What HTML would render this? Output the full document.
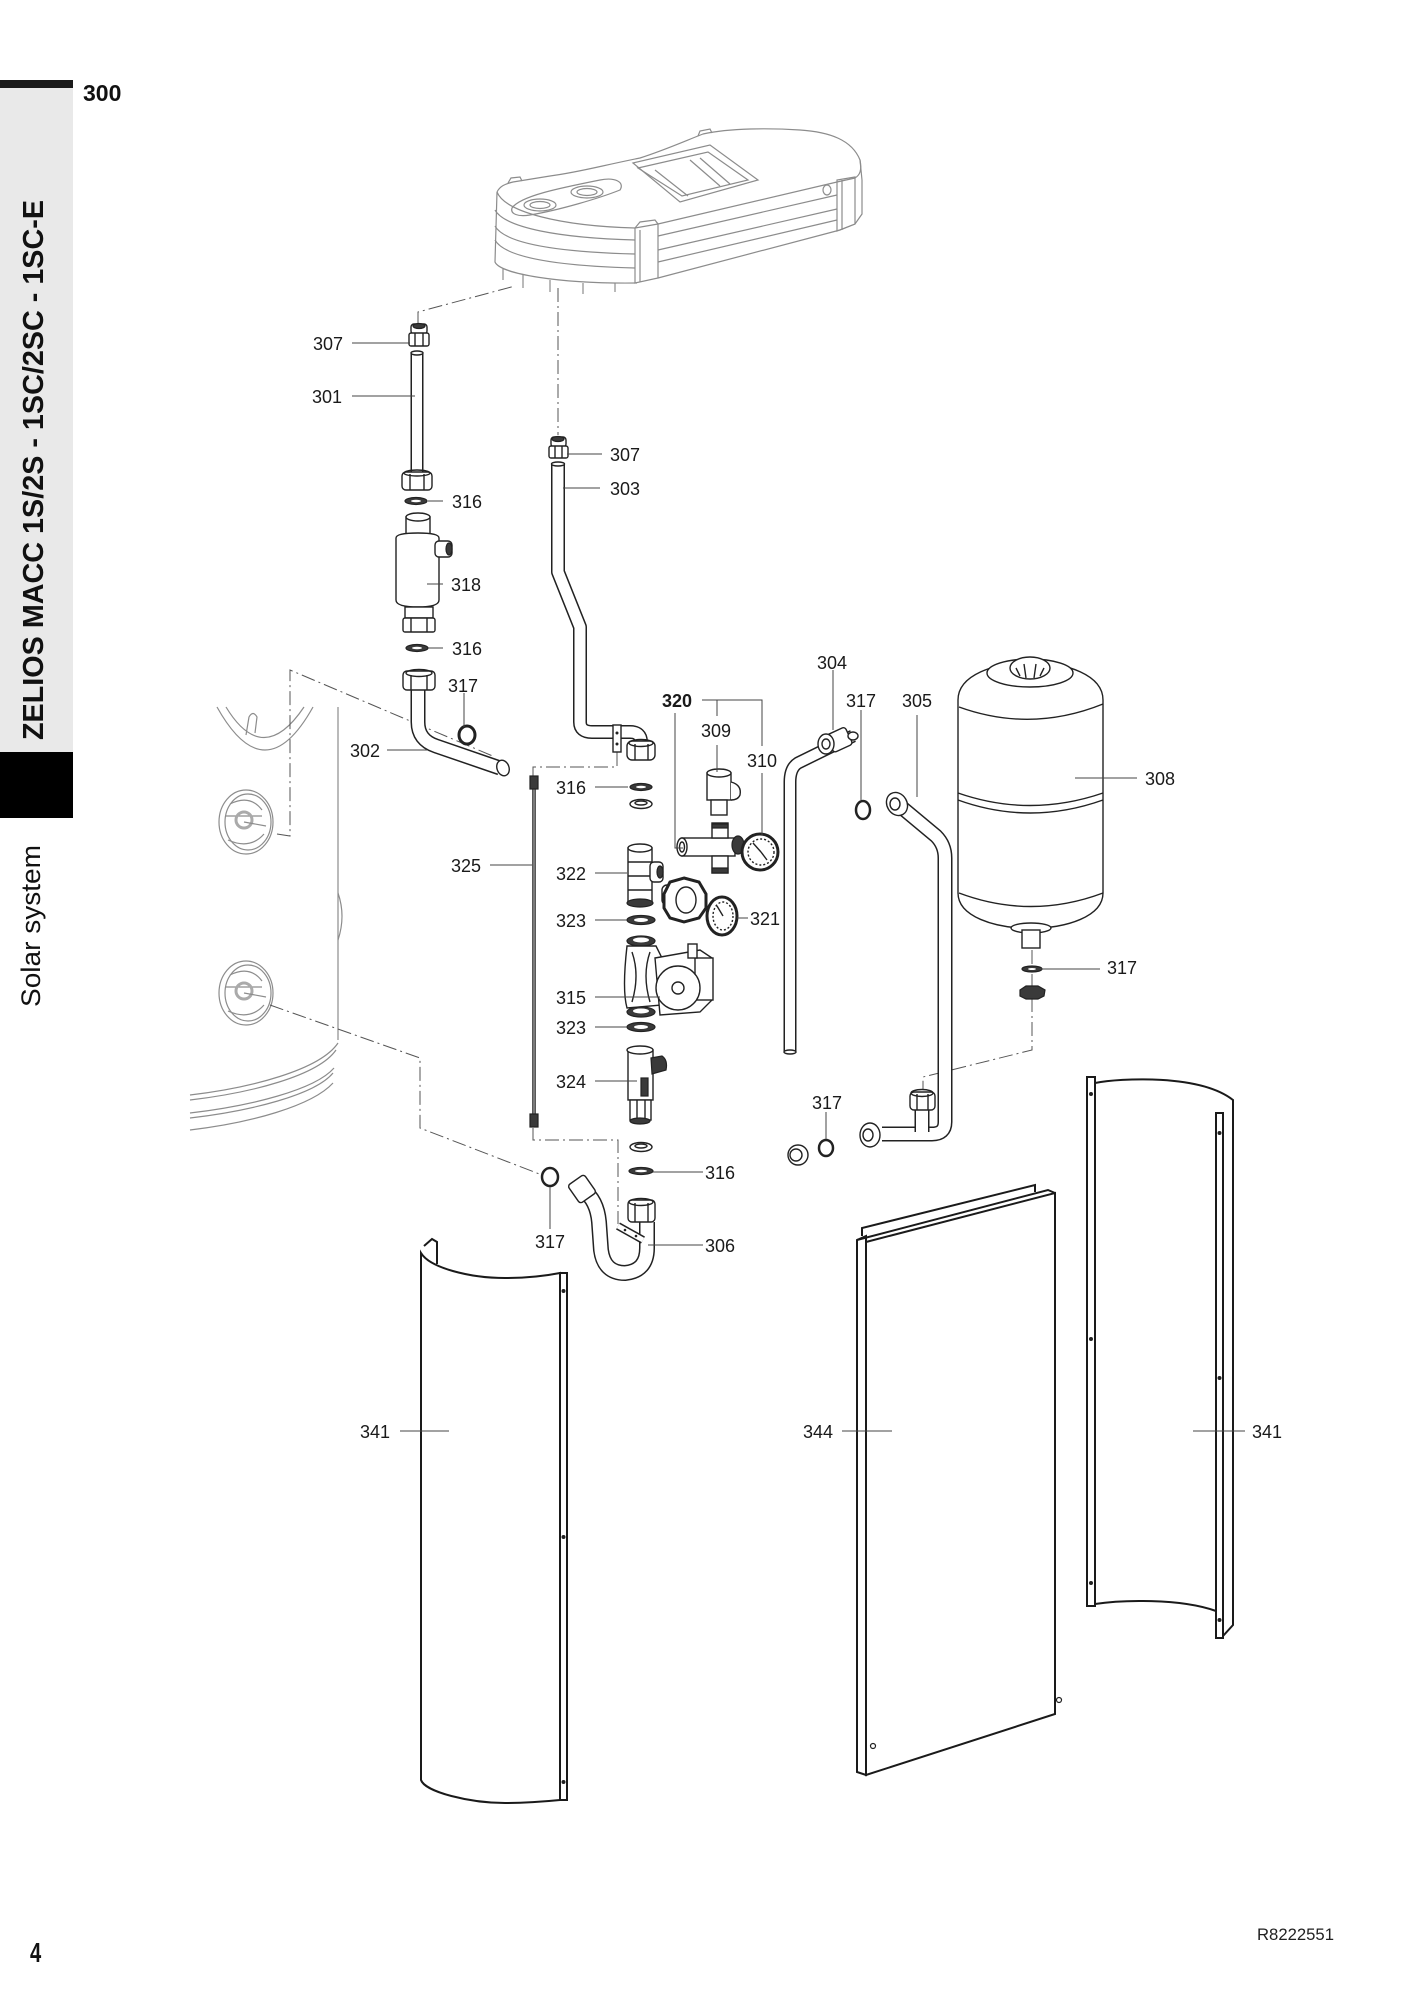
<!DOCTYPE html>
<html><head><meta charset="utf-8">
<style>
html,body{margin:0;padding:0;background:#fff;}
svg{display:block}
text{font-family:"Liberation Sans",Arial,sans-serif;}
.lb{font-size:18px;fill:#1a1a1a;text-anchor:middle}
.ld{stroke:#444;stroke-width:1;fill:none}
.dd{stroke:#555;stroke-width:1;fill:none;stroke-dasharray:14 4 2 4}
.g{stroke:#8c8c8c;stroke-width:1.2;fill:none}
.k{stroke:#222;stroke-width:1.4;fill:#fff}
.kn{stroke:#222;stroke-width:1.4;fill:none}
.kd{stroke:#222;stroke-width:1.2;fill:#3a3a3a}
.tb{stroke:#222;fill:none;stroke-linejoin:round}
.tw{stroke:#fff;fill:none;stroke-linejoin:round}
.pn{stroke:#1a1a1a;stroke-width:2;fill:#fff}
.pl{stroke:#1a1a1a;stroke-width:2;fill:none}
</style></head><body>
<svg width="1410" height="1994" viewBox="0 0 1410 1994" xmlns="http://www.w3.org/2000/svg">
<defs>
 <path id="p301" d="M417,352 L417,472"/>
 <path id="p302" d="M418,690 L418,722 Q418,740 436,746 L500,768"/>
 <path id="p303" d="M558,463 L558,572 L580,627 L580,722 Q580,732 592,732 L630,732 Q641,732 641,742"/>
 <path id="p304" d="M853,736 L798,763 Q790,768 790,782 L790,1052"/>
 <path id="p305" d="M900,806 L936,836 Q945,845 945,858 L945,1122 Q945,1134 932,1134 L882,1134"/>
 <path id="p305b" d="M922,1108 L922,1132"/>
 <path id="p306" d="M583,1190 Q597,1200 599,1222 L601,1250 Q604,1273 625,1273 Q647,1271 647,1248 L647,1222"/>
</defs>

<!-- Sidebar -->
<rect x="0" y="80" width="73" height="8" fill="#1a1a1a"/>
<rect x="0" y="88" width="73" height="664" fill="#e9e9e9"/>
<rect x="0" y="752" width="73" height="66" fill="#000"/>
<text transform="translate(43,470) rotate(-90)" text-anchor="middle" font-size="28.5" font-weight="bold" fill="#111" textLength="540" lengthAdjust="spacingAndGlyphs">ZELIOS MACC 1S/2S - 1SC/2SC - 1SC-E</text>
<text transform="translate(40,926) rotate(-90)" text-anchor="middle" font-size="27" fill="#111" textLength="162" lengthAdjust="spacingAndGlyphs">Solar system</text>
<text x="83" y="101" font-size="23" font-weight="bold" fill="#111">300</text>

<!-- Top cover (gray) -->
<g class="g">
 <path d="M497,192 C500,186 505,184 513,182 L550,176 C580,172 600,166 640,158 C665,150 685,141 703,134 C730,128 770,128 800,130 C830,132 852,140 860,160 L862,180"/>
 <path d="M508,183 L511,178 L520,177 L522,181"/>
 <path d="M698,136 L700,131 L710,129 L712,133"/>
 <path d="M497,192 C505,212 560,226 635,228"/>
 <path d="M658,224 L837,182 L855,178 C860,175 862,170 860,160"/>
 <path d="M495,210 C505,228 560,238 635,240"/>
 <path d="M495,226 C505,244 560,252 635,254"/>
 <path d="M495,240 C505,258 560,266 635,268"/>
 <path d="M658,236 L837,195"/>
 <path d="M658,250 L837,209"/>
 <path d="M658,262 L837,220"/>
 <path d="M497,192 L495,262 C500,274 560,284 637,283"/>
 <path d="M658,278 L840,230 L855,224 L862,214 L862,180"/>
 <path d="M635,228 L635,283 L658,278 L658,224 Z"/>
 <path d="M640,230 L640,282"/>
 <path d="M635,228 L640,222 L655,220 L658,224"/>
 <path d="M837,180 L837,231 L855,224 L855,177 Z"/>
 <path d="M842,180 L842,230"/>
 <path d="M633,163 L710,145 L758,180 L680,202 Z"/>
 <path d="M638,168 L708,152 L748,180 L682,196 Z"/>
 <path d="M655,170 L688,196 M690,160 L720,186 M700,158 L730,184"/>
 <path d="M512,208 C520,196 560,188 600,180 C615,177 625,182 620,190 C600,198 560,210 530,215 C518,217 510,214 512,208 Z"/>
 <ellipse cx="540" cy="205" rx="16" ry="6"/>
 <ellipse cx="540" cy="205" rx="10" ry="3.5"/>
 <ellipse cx="587" cy="192" rx="16" ry="6"/>
 <ellipse cx="587" cy="192" rx="10" ry="3.5"/>
 <ellipse cx="827" cy="190" rx="4" ry="5"/>
 <path d="M503,268 L503,280 M523,274 L523,288 M550,280 L550,292 M583,283 L583,294 M615,283 L615,292"/>
</g>

<!-- Left boiler (gray) -->
<g class="g" stroke="#9a9a9a">
 <path d="M338,707 L338,1040"/>
 <path d="M338,893 Q346,916 338,940"/>
 <path d="M217,707 Q265,793 313,707"/>
 <path d="M226,707 Q263,768 304,707"/>
 <path d="M246,735 L249,717 Q253,710 257,717 L255,733"/>
 <ellipse cx="246" cy="822" rx="27" ry="32"/>
 <ellipse cx="248" cy="822" rx="23" ry="28"/>
 <path d="M230,804 Q250,794 262,810 M228,840 Q250,850 264,834 M226,816 L262,816"/>
 <circle cx="244" cy="820" r="8" stroke-width="3" stroke="#aaa"/>
 <path d="M244,822 L266,826"/>
 <ellipse cx="246" cy="993" rx="27" ry="32"/>
 <ellipse cx="248" cy="993" rx="23" ry="28"/>
 <path d="M230,975 Q250,965 262,981 M228,1011 Q250,1021 264,1005 M226,987 L262,987"/>
 <circle cx="244" cy="991" r="8" stroke-width="3" stroke="#aaa"/>
 <path d="M244,993 L266,997"/>
 <path d="M190,1095 C250,1088 320,1070 338,1043"/>
 <path d="M190,1100 C250,1093 318,1076 336,1050"/>
 <path d="M190,1113 C250,1106 315,1090 334,1068"/>
 <path d="M190,1118 C250,1111 315,1095 333,1073"/>
 <path d="M190,1130 C250,1123 312,1106 333,1083"/>
</g>

<!-- dash-dot axes -->
<g class="dd">
 <path d="M418,325 L418,312 L515,286"/>
 <path d="M558,288 L558,435"/>
 <path d="M277,834 L290,836 L290,670 L495,757"/>
 <path d="M270,1005 L420,1058 L420,1128 L542,1175"/>
 <path d="M617,752 L617,767 L533,767 L533,776"/>
 <path d="M533,1128 L533,1140 L618,1140 L618,1224"/>
 <path d="M1032,950 L1032,1050 L923,1077 L923,1090"/>
</g>

<!-- tubes -->
<g>
 <use href="#p301" class="tb" stroke-width="13"/><use href="#p301" class="tw" stroke-width="10"/>
 <use href="#p302" class="tb" stroke-width="15"/><use href="#p302" class="tw" stroke-width="12"/>
 <use href="#p303" class="tb" stroke-width="14"/><use href="#p303" class="tw" stroke-width="11"/>
 <use href="#p304" class="tb" stroke-width="13"/><use href="#p304" class="tw" stroke-width="10"/>
 <use href="#p305" class="tb" stroke-width="15"/><use href="#p305" class="tw" stroke-width="12"/>
 <use href="#p305b" class="tb" stroke-width="15"/><use href="#p305b" class="tw" stroke-width="12"/>
 <use href="#p306" class="tb" stroke-width="16"/><use href="#p306" class="tw" stroke-width="13"/>
</g>

<!-- 307 left + 301 -->
<g>
 <rect x="411" y="324" width="16" height="10" rx="3" class="k"/>
 <ellipse cx="419" cy="326" rx="6" ry="2.5" class="kd"/>
 <rect x="409" y="333" width="20" height="13" rx="2" class="k"/>
 <path d="M415,333 L415,346 M423,333 L423,346" class="kn"/>
 <ellipse cx="417" cy="353" rx="6" ry="2" class="k"/>
 <rect x="402" y="472" width="30" height="18" rx="4" class="k"/>
 <ellipse cx="417" cy="473" rx="13" ry="3" class="kn"/>
 <path d="M410,474 L410,490 M424,474 L424,490" class="kn"/>
 <ellipse cx="416" cy="501" rx="11" ry="3.5" class="kd"/><ellipse cx="416" cy="501" rx="5" ry="1.3" fill="#fff"/>
 <!-- 318 -->
 <rect x="406" y="517" width="24" height="18" class="k"/>
 <ellipse cx="418" cy="517" rx="12" ry="4" class="k"/>
 <path d="M396,538 Q396,533 418,533 Q439,533 439,538 L439,600 Q439,607 418,607 Q396,607 396,600 Z" class="k"/>
 <rect x="435" y="541" width="17" height="16" rx="4" class="k"/>
 <ellipse cx="449" cy="549" rx="3" ry="6" class="kd"/>
 <rect x="405" y="607" width="28" height="11" class="k"/>
 <rect x="403" y="618" width="32" height="14" rx="2" class="k"/>
 <path d="M411,618 L411,632 M427,618 L427,632" class="kn"/>
 <ellipse cx="417" cy="648" rx="11" ry="3.5" class="kd"/><ellipse cx="417" cy="648" rx="5" ry="1.3" fill="#fff"/>
 <!-- 302 nut -->
 <rect x="403" y="671" width="32" height="19" rx="4" class="k"/>
 <ellipse cx="419" cy="673" rx="13" ry="3.5" class="kn"/>
 <path d="M411,675 L411,690 M427,675 L427,690" class="kn"/>
 <ellipse cx="503" cy="768" rx="6" ry="8" class="k" transform="rotate(-20 503 768)"/>
 <ellipse cx="467" cy="735" rx="8" ry="9" fill="none" stroke="#222" stroke-width="3"/>
</g>

<!-- 307 right + 303 end -->
<g>
 <rect x="551" y="437" width="15" height="10" rx="3" class="k"/>
 <ellipse cx="558" cy="439" rx="6" ry="2.5" class="kd"/>
 <rect x="549" y="446" width="19" height="12" rx="2" class="k"/>
 <path d="M555,446 L555,458 M562,446 L562,458" class="kn"/>
 <ellipse cx="558" cy="464" rx="6.5" ry="2" class="k"/>
 <rect x="627" y="741" width="28" height="19" rx="5" class="k"/>
 <ellipse cx="641" cy="743" rx="12" ry="3.5" class="kn"/>
 <path d="M635,744 L635,760 M648,744 L648,760" class="kn"/>
 <rect x="613" y="725" width="8" height="27" class="k"/>
 <circle cx="617" cy="733" r="1.5" fill="#222"/><circle cx="617" cy="744" r="1.5" fill="#222"/>
</g>

<!-- central group -->
<g>
 <ellipse cx="641" cy="787" rx="11" ry="3.5" class="kd"/><ellipse cx="641" cy="787" rx="5" ry="1.3" fill="#fff"/>
 <ellipse cx="641" cy="804" rx="11" ry="4.5" class="k"/><ellipse cx="641" cy="803" rx="6" ry="2" class="kn"/>
 <!-- 309 -->
 <rect x="707" y="773" width="24" height="27" class="k"/>
 <ellipse cx="719" cy="773" rx="12" ry="4" class="k"/>
 <rect x="711" y="800" width="16" height="15" class="k"/>
 <path d="M731,782 Q742,785 740,795 Q738,800 731,800" class="k"/>
 <!-- tee -->
 <rect x="682" y="838" width="53" height="18" class="k"/>
 <ellipse cx="682" cy="847" rx="5" ry="9" class="k"/>
 <ellipse cx="682" cy="847" rx="2.5" ry="5" class="kn"/>
 <rect x="712" y="823" width="16" height="15" class="k"/>
 <rect x="712" y="824" width="16" height="4" class="kd"/>
 <rect x="712" y="856" width="16" height="17" class="k"/>
 <rect x="712" y="868" width="16" height="5" class="kd"/>
 <ellipse cx="738" cy="845" rx="6" ry="9" class="kd"/>
 <!-- gauge 310 -->
 <circle cx="760" cy="852" r="18" fill="#fff" stroke="#222" stroke-width="3"/>
 <circle cx="761" cy="852" r="13" class="kn" stroke-dasharray="2 2"/>
 <path d="M761,852 L753,843 M761,852 L767,860" class="kn" stroke-width="2"/>
 <!-- 322 -->
 <rect x="628" y="848" width="24" height="54" class="k"/>
 <ellipse cx="640" cy="848" rx="12" ry="4" class="k" stroke-width="2.5"/>
 <path d="M628,862 L652,862 M628,876 L652,876 M628,890 L652,890" class="kn"/>
 <rect x="650" y="862" width="13" height="20" rx="4" class="k"/>
 <ellipse cx="660" cy="872" rx="3" ry="6" class="kd"/>
 <ellipse cx="640" cy="903" rx="13" ry="4" class="kd"/>
 <!-- 321 -->
 <rect x="662" y="885" width="14" height="20" rx="5" class="k"/>
 <polygon points="684,878 699,882 706,894 706,908 699,918 684,922 670,918 664,908 664,894 670,882" fill="#fff" stroke="#222" stroke-width="3"/>
 <ellipse cx="686" cy="900" rx="10" ry="13" class="kn" stroke-width="2"/>
 <ellipse cx="722" cy="916" rx="15" ry="19" fill="#fff" stroke="#222" stroke-width="3"/>
 <ellipse cx="723" cy="916" rx="10" ry="14" class="kn" stroke-dasharray="2 2"/>
 <path d="M723,916 L717,906" class="kn" stroke-width="2"/>
 <ellipse cx="641" cy="920" rx="14" ry="4.5" class="kd"/><ellipse cx="641" cy="920" rx="7" ry="2" fill="#fff"/>
 <!-- pump 315 -->
 <ellipse cx="641" cy="941" rx="14" ry="5" class="kd"/><ellipse cx="641" cy="940" rx="8" ry="2.5" fill="#fff"/>
 <path d="M627,946 L656,946 L662,958 L662,1005 L627,1008 Q622,990 627,946 Z" class="k"/>
 <path d="M632,952 Q640,975 632,1002 M650,952 Q642,975 650,1002" class="kn"/>
 <path d="M655,958 L700,950 L712,958 L712,1000 L700,1012 L660,1015 Z" class="k"/>
 <rect x="695" y="958" width="18" height="42" class="k"/>
 <rect x="688" y="944" width="9" height="14" class="k"/>
 <circle cx="678" cy="988" r="22" class="k"/>
 <circle cx="678" cy="988" r="6" class="k" stroke-width="2"/>
 <ellipse cx="641" cy="1012" rx="14" ry="5" class="kd"/><ellipse cx="641" cy="1011" rx="8" ry="2.5" fill="#fff"/>
 <ellipse cx="641" cy="1027" rx="14" ry="4.5" class="kd"/><ellipse cx="641" cy="1027" rx="7" ry="2" fill="#fff"/>
 <!-- 324 -->
 <rect x="628" y="1050" width="25" height="50" class="k"/>
 <ellipse cx="640" cy="1050" rx="13" ry="4" class="k" stroke-width="2.5"/>
 <path d="M651,1058 L662,1056 Q668,1060 666,1070 L652,1074 Z" class="kd"/>
 <rect x="641" y="1078" width="7" height="18" class="kd"/>
 <rect x="630" y="1100" width="21" height="20" class="k"/>
 <path d="M637,1100 L637,1120 M645,1100 L645,1120" class="kn"/>
 <ellipse cx="640" cy="1121" rx="10" ry="3" class="kd"/>
 <ellipse cx="641" cy="1147" rx="11" ry="4.5" class="k"/><ellipse cx="641" cy="1146" rx="6" ry="2" class="kn"/>
 <ellipse cx="641" cy="1171" rx="12" ry="3.5" class="kd"/><ellipse cx="641" cy="1171" rx="6" ry="1.3" fill="#fff"/>
 <!-- 306 -->
 <rect x="628" y="1200" width="27" height="22" rx="4" class="k"/>
 <ellipse cx="641" cy="1202" rx="12" ry="3.5" class="kn"/>
 <path d="M635,1203 L635,1222 M648,1203 L648,1222" class="kn"/>
 <rect x="572" y="1178" width="20" height="22" rx="3" class="k" transform="rotate(-35 582 1189)"/>
 <path d="M618,1226 L643,1240" stroke="#222" stroke-width="8"/>
 <path d="M618,1226 L643,1240" stroke="#fff" stroke-width="5"/>
 <circle cx="625" cy="1230" r="1.3" fill="#222"/><circle cx="636" cy="1236" r="1.3" fill="#222"/>
 <ellipse cx="550" cy="1177" rx="8" ry="9" fill="none" stroke="#222" stroke-width="2.5"/>
 <!-- 325 -->
 <path d="M534,782 L534,1120" stroke="#222" stroke-width="3.5"/>
 <path d="M534,784 L534,1118" stroke="#fff" stroke-width="0.8"/>
 <rect x="530" y="776" width="8" height="13" class="kd"/>
 <rect x="530" y="1114" width="8" height="13" class="kd"/>
</g>

<!-- 304 / 317 / 305 -->
<g>
 <ellipse cx="790" cy="1052" rx="6" ry="2" class="k"/>
 <rect x="829" y="730" width="21" height="19" rx="3" class="k" transform="rotate(-25 840 740)"/>
 <ellipse cx="826" cy="744" rx="8" ry="10" class="k" stroke-width="2"/>
 <ellipse cx="826" cy="744" rx="4" ry="5" class="kn"/>
 <ellipse cx="853" cy="736" rx="5" ry="4" class="k"/>
 <ellipse cx="863" cy="810" rx="7" ry="9" fill="none" stroke="#222" stroke-width="2.5"/>
 <ellipse cx="897" cy="804" rx="10" ry="12" class="k" stroke-width="2.5" transform="rotate(-30 897 804)"/>
 <ellipse cx="895" cy="804" rx="5" ry="6" class="kn"/>
 <rect x="910" y="1092" width="25" height="18" rx="4" class="k"/>
 <ellipse cx="922" cy="1093" rx="11" ry="3.5" class="kn"/>
 <path d="M917,1094 L917,1110 M928,1094 L928,1110" class="kn"/>
 <ellipse cx="870" cy="1135" rx="10" ry="12" class="k" stroke-width="2.5"/>
 <ellipse cx="868" cy="1135" rx="5" ry="6" class="kn"/>
 <ellipse cx="826" cy="1148" rx="7" ry="8" fill="none" stroke="#222" stroke-width="2.5"/>
 <ellipse cx="798" cy="1155" rx="10" ry="10" class="k" stroke-width="2"/>
 <ellipse cx="796" cy="1155" rx="6" ry="6" class="kn"/>
</g>

<!-- Tank 308 -->
<g>
 <path d="M958,700 C958,650 1103,650 1103,700 L1103,893 C1103,940 958,940 958,893 Z" class="k" stroke-width="1.8"/>
 <path d="M959,707 Q1031,733 1103,704" class="kn"/>
 <path d="M959,893 Q1031,920 1103,893" class="kn"/>
 <path d="M958,793 Q1030,818 1103,793" class="kn" stroke-width="1.8"/>
 <path d="M958,800 Q1030,826 1103,800" class="kn" stroke-width="1.8"/>
 <ellipse cx="1030" cy="673" rx="43" ry="14" class="k"/>
 <ellipse cx="1030" cy="668" rx="20" ry="11" class="k" stroke-width="2"/>
 <path d="M1016,668 L1020,676 M1024,664 L1026,678 M1036,664 L1034,678 M1044,668 L1040,676" class="kn" stroke-width="1"/>
 <ellipse cx="1031" cy="928" rx="20" ry="5" class="k"/>
 <rect x="1022" y="930" width="18" height="18" class="k"/>
 <ellipse cx="1032" cy="969" rx="10" ry="3" class="kd"/><ellipse cx="1032" cy="969" rx="4" ry="1" fill="#fff"/>
 <polygon points="1020,990 1026,986 1038,986 1045,990 1044,996 1038,999 1026,999 1020,996" class="kd"/>
</g>

<!-- Panels -->
<g>
 <!-- 341 left -->
 <path d="M421,1253 C430,1268 470,1278 505,1278 C530,1278 550,1275 560,1273 L560,1800 C550,1801 530,1803 505,1803 C470,1803 425,1792 421,1780 Z" class="pn"/>
 <path d="M424,1246 L432,1239 L437,1242 L437,1264" class="pl" stroke-width="1.6"/>
 <rect x="560" y="1273" width="7" height="527" class="pn"/>
 <circle cx="563.5" cy="1291" r="2" fill="#222"/><circle cx="563.5" cy="1537" r="2" fill="#222"/><circle cx="563.5" cy="1782" r="2" fill="#222"/>
 <!-- 344 -->
 <path d="M862,1236 L862,1228 L1035,1185 L1035,1192" class="pl" stroke-width="1.6"/>
 <polygon points="866,1242 1055,1193 1055,1714 866,1775" class="pn"/>
 <polygon points="857,1240 866,1236 866,1775 857,1772" class="pn"/>
 <path d="M857,1240 L1048,1190 L1055,1193" class="pl" stroke-width="1.6"/>
 <circle cx="873" cy="1746" r="2.5" fill="#fff" stroke="#222" stroke-width="1.2"/>
 <circle cx="1059" cy="1700" r="2.5" fill="#fff" stroke="#222" stroke-width="1.2"/>
 <!-- 341 right -->
 <path d="M1095,1083 C1120,1078 1200,1074 1233,1100 L1233,1625 L1223,1636 L1216,1611 C1180,1598 1120,1600 1095,1604 Z" class="pn"/>
 <rect x="1087" y="1077" width="8" height="529" class="pn"/>
 <rect x="1216" y="1113" width="7" height="525" class="pn"/>
 <circle cx="1091" cy="1094" r="2" fill="#222"/><circle cx="1091" cy="1339" r="2" fill="#222"/><circle cx="1091" cy="1583" r="2" fill="#222"/>
 <circle cx="1219.5" cy="1133" r="2" fill="#222"/><circle cx="1219.5" cy="1378" r="2" fill="#222"/><circle cx="1219.5" cy="1620" r="2" fill="#222"/>
</g>

<!-- leader lines -->
<g class="ld">
 <path d="M352,343 L410,343"/>
 <path d="M352,396 L415,396"/>
 <path d="M428,501 L443,501"/>
 <path d="M427,584 L443,584"/>
 <path d="M428,648 L443,648"/>
 <path d="M464,693 L464,727"/>
 <path d="M387,750 L427,750"/>
 <path d="M567,454 L602,454"/>
 <path d="M563,488 L600,488"/>
 <path d="M702,700 L762,700 L762,746 M762,773 L762,835"/>
 <path d="M717,700 L717,716 M717,745 L717,772"/>
 <path d="M675,713 L675,848 L683,848"/>
 <path d="M833,670 L833,730"/>
 <path d="M861,710 L861,800"/>
 <path d="M917,715 L917,797"/>
 <path d="M1075,778 L1137,778"/>
 <path d="M595,787 L628,787"/>
 <path d="M490,865 L532,865"/>
 <path d="M595,873 L627,873"/>
 <path d="M595,920 L627,920"/>
 <path d="M737,918 L748,918"/>
 <path d="M1040,969 L1100,969"/>
 <path d="M595,997 L660,997"/>
 <path d="M595,1027 L627,1027"/>
 <path d="M595,1081 L637,1081"/>
 <path d="M826,1112 L826,1139"/>
 <path d="M653,1172 L703,1172"/>
 <path d="M550,1187 L550,1229"/>
 <path d="M648,1245 L703,1245"/>
 <path d="M400,1431 L449,1431"/>
 <path d="M842,1431 L892,1431"/>
 <path d="M1193,1431 L1245,1431"/>
</g>

<!-- labels -->
<g class="lb">
 <text x="328" y="350">307</text>
 <text x="327" y="403">301</text>
 <text x="467" y="508">316</text>
 <text x="466" y="591">318</text>
 <text x="467" y="655">316</text>
 <text x="463" y="692">317</text>
 <text x="365" y="757">302</text>
 <text x="625" y="461">307</text>
 <text x="625" y="495">303</text>
 <text x="677" y="707" font-weight="bold">320</text>
 <text x="716" y="737">309</text>
 <text x="762" y="767">310</text>
 <text x="832" y="669">304</text>
 <text x="861" y="707">317</text>
 <text x="917" y="707">305</text>
 <text x="1160" y="785">308</text>
 <text x="571" y="794">316</text>
 <text x="466" y="872">325</text>
 <text x="571" y="880">322</text>
 <text x="571" y="927">323</text>
 <text x="765" y="925">321</text>
 <text x="1122" y="974">317</text>
 <text x="571" y="1004">315</text>
 <text x="571" y="1034">323</text>
 <text x="571" y="1088">324</text>
 <text x="827" y="1109">317</text>
 <text x="720" y="1179">316</text>
 <text x="550" y="1248">317</text>
 <text x="720" y="1252">306</text>
 <text x="375" y="1438">341</text>
 <text x="818" y="1438">344</text>
 <text x="1267" y="1438">341</text>
</g>

<!-- footer -->
<text x="30" y="1962" font-size="28" font-weight="bold" fill="#111" transform="translate(30 0) scale(0.72 1) translate(-30 0)">4</text>
<text x="1257" y="1940" font-size="17" fill="#222" textLength="77" lengthAdjust="spacingAndGlyphs">R8222551</text>
</svg>
</body></html>
